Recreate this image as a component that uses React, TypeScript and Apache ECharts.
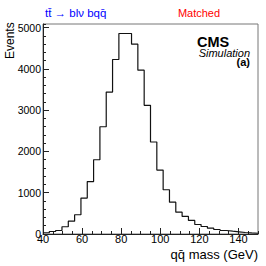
import React, { useEffect, useRef } from "react";
import * as echarts from "echarts";

const X_MIN = 40;
const X_MAX = 150;
const N_BINS = 34;
const counts = [
  30, 60, 85, 176, 310, 466, 870, 1270, 1800, 2600, 3440, 4230, 4860, 4860,
  4600, 3970, 3120, 2230, 1550, 1073, 772, 530, 425, 328, 230, 182, 141, 109,
  85, 68, 53, 36, 25, 18,
];
const Y_MAX = 5090;

const FONT = "'Liberation Sans', Arial, Helvetica, sans-serif";

export default function App() {
  const ref = useRef<HTMLDivElement>(null);
  useEffect(() => {
    if (!ref.current) return;
    const chart = echarts.init(ref.current, null, { renderer: "svg" });
    const bw = (X_MAX - X_MIN) / N_BINS;
    const data: number[][] = counts.map((c, i) => [X_MIN + i * bw, c]);
    data.push([X_MAX, counts[counts.length - 1]]);

    const axisCommon = {
      axisLine: { show: true, lineStyle: { color: "#222", width: 1 } },
      splitLine: { show: false },
    };

    chart.setOption({
      animation: false,
      backgroundColor: "#fff",
      grid: {
        left: 43,
        right: 8,
        top: 24,
        bottom: 32,
        show: true,
        borderColor: "#777",
        borderWidth: 1,
        backgroundColor: "transparent",
      },
      xAxis: [
        {
          type: "value",
          position: "bottom",
          min: X_MIN,
          max: X_MAX,
          interval: 20,
          ...axisCommon,
          axisTick: { show: true, inside: true, length: 6, lineStyle: { color: "#222" } },
          axisLabel: {
            show: true,
            margin: 2,
            fontSize: 11,
            lineHeight: 6,
            fontFamily: FONT,
            color: "#000",
            showMaxLabel: false,
            formatter: (v: number) => String(v),
          },
        },
        {
          type: "value",
          position: "bottom",
          min: X_MIN,
          max: X_MAX,
          interval: 5,
          axisLine: { show: false },
          splitLine: { show: false },
          axisTick: { show: true, inside: true, length: 3, lineStyle: { color: "#222" } },
          axisLabel: { show: false },
        },
      ],
      yAxis: [
        {
          type: "value",
          position: "left",
          min: 0,
          max: Y_MAX,
          interval: 1000,
          ...axisCommon,
          axisTick: { show: true, inside: true, length: 6, lineStyle: { color: "#222" } },
          axisLabel: {
            show: true,
            margin: 2,
            fontSize: 10.5,
            lineHeight: 6,
            fontFamily: FONT,
            color: "#000",
            showMaxLabel: false,
            formatter: (v: number) => String(v),
          },
        },
        {
          type: "value",
          position: "left",
          min: 0,
          max: Y_MAX,
          interval: 200,
          axisLine: { show: false },
          splitLine: { show: false },
          axisTick: { show: true, inside: true, length: 3, lineStyle: { color: "#222" } },
          axisLabel: { show: false },
        },
      ],
      series: [
        {
          type: "line",
          xAxisIndex: 0,
          yAxisIndex: 0,
          step: "end",
          data,
          symbol: "none",
          lineStyle: { color: "#111", width: 1.2 },
          clip: true,
        },
      ],
      graphic: [
        {
          type: "text",
          x: 45,
          y: 13,
          style: {
            text: "t\u0074\u0304 \u2192 bl\u03bd bq\u0071\u0304",
            fill: "#0000ff",
            fontSize: 11.5,
            fontFamily: FONT,
            verticalAlign: "middle",
            align: "left",
          },
        },
        {
          type: "text",
          x: 199,
          y: 13,
          style: {
            text: "Matched",
            fill: "#ff0000",
            fontSize: 11,
            fontFamily: FONT,
            verticalAlign: "middle",
            align: "center",
          },
        },
        {
          type: "text",
          x: 197,
          y: 41.5,
          style: {
            text: "CMS",
            fill: "#000",
            fontSize: 14.5,
            lineHeight: 11,
            fontWeight: "bold",
            fontFamily: FONT,
            verticalAlign: "middle",
            align: "left",
          },
        },
        {
          type: "text",
          x: 250,
          y: 52.5,
          style: {
            text: "Simulation",
            fill: "#000",
            fontSize: 11,
            lineHeight: 8,
            fontStyle: "italic",
            fontFamily: FONT,
            verticalAlign: "middle",
            align: "right",
          },
        },
        {
          type: "text",
          x: 250,
          y: 62,
          style: {
            text: "(a)",
            fill: "#000",
            fontSize: 11,
            lineHeight: 8,
            fontWeight: "bold",
            fontFamily: FONT,
            verticalAlign: "middle",
            align: "right",
          },
        },
        {
          type: "text",
          x: 10,
          y: 59,
          rotation: Math.PI / 2,
          style: {
            text: "Events",
            fill: "#000",
            fontSize: 12,
            fontFamily: FONT,
            verticalAlign: "middle",
            align: "left",
          },
        },
        {
          type: "text",
          x: 258,
          y: 254,
          style: {
            text: "q\u0071\u0304 mass (GeV)",
            fill: "#000",
            fontSize: 13,
            fontFamily: FONT,
            verticalAlign: "middle",
            align: "right",
          },
        },
      ],
    });
    return () => chart.dispose();
  }, []);
  return (
    <div
      ref={ref}
      style={{ position: "fixed", left: 0, top: 0, width: 266, height: 266 }}
    />
  );
}
